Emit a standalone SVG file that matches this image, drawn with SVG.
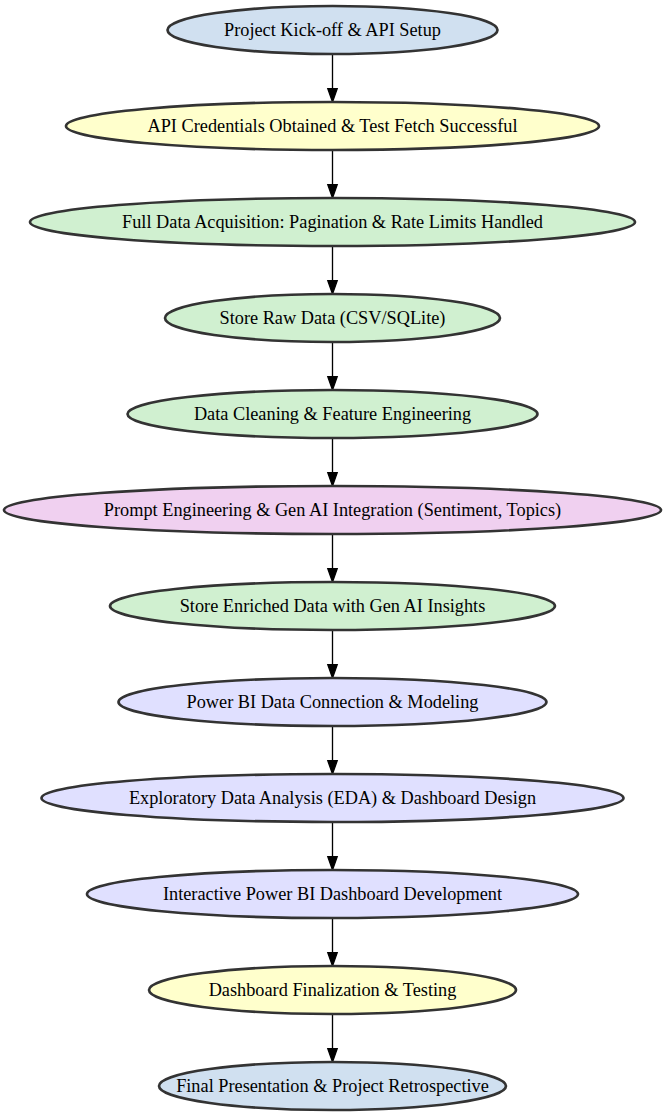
<svg xmlns="http://www.w3.org/2000/svg" width="665" height="1115" viewBox="0 0 665 1115">
<style>
.n ellipse{stroke:#333333;stroke-width:2.67}
.n text{font-family:"Liberation Serif","Times New Roman",serif;font-size:18.3px;text-anchor:middle;fill:#000}
.b{fill:#d0e0f0}.y{fill:#ffffcc}.g{fill:#d0f0d0}.p{fill:#f0d0f0}.l{fill:#e0e0ff}
#edges line{stroke:#000;stroke-width:1.33}
#edges polygon{fill:#000;stroke:#000;stroke-width:1.33}
</style>
<rect width="665" height="1115" fill="#ffffff"/>
<g id="edges">
<line x1="332.5" y1="54" x2="332.5" y2="88.7"/><polygon points="327.8,88.7 337.2,88.7 332.5,102"/>
<line x1="332.5" y1="150" x2="332.5" y2="184.7"/><polygon points="327.8,184.7 337.2,184.7 332.5,198"/>
<line x1="332.5" y1="246" x2="332.5" y2="280.7"/><polygon points="327.8,280.7 337.2,280.7 332.5,294"/>
<line x1="332.5" y1="342" x2="332.5" y2="376.7"/><polygon points="327.8,376.7 337.2,376.7 332.5,390"/>
<line x1="332.5" y1="438" x2="332.5" y2="472.7"/><polygon points="327.8,472.7 337.2,472.7 332.5,486"/>
<line x1="332.5" y1="534" x2="332.5" y2="568.7"/><polygon points="327.8,568.7 337.2,568.7 332.5,582"/>
<line x1="332.5" y1="630" x2="332.5" y2="664.7"/><polygon points="327.8,664.7 337.2,664.7 332.5,678"/>
<line x1="332.5" y1="726" x2="332.5" y2="760.7"/><polygon points="327.8,760.7 337.2,760.7 332.5,774"/>
<line x1="332.5" y1="822" x2="332.5" y2="856.7"/><polygon points="327.8,856.7 337.2,856.7 332.5,870"/>
<line x1="332.5" y1="918" x2="332.5" y2="952.7"/><polygon points="327.8,952.7 337.2,952.7 332.5,966"/>
<line x1="332.5" y1="1014" x2="332.5" y2="1048.7"/><polygon points="327.8,1048.7 337.2,1048.7 332.5,1062"/>
</g>
<g id="n1" class="n"><ellipse class="b" cx="332.5" cy="30" rx="165" ry="24"/><text x="332.5" y="36">Project Kick-off &amp; API Setup</text></g>
<g id="n2" class="n"><ellipse class="y" cx="332.5" cy="126" rx="266.5" ry="24"/><text x="332.5" y="132">API Credentials Obtained &amp; Test Fetch Successful</text></g>
<g id="n3" class="n"><ellipse class="g" cx="332.5" cy="222" rx="302.5" ry="24"/><text x="332.5" y="228">Full Data Acquisition: Pagination &amp; Rate Limits Handled</text></g>
<g id="n4" class="n"><ellipse class="g" cx="332.5" cy="318" rx="167.5" ry="24"/><text x="332.5" y="324">Store Raw Data (CSV/SQLite)</text></g>
<g id="n5" class="n"><ellipse class="g" cx="332.5" cy="414" rx="205" ry="24"/><text x="332.5" y="420">Data Cleaning &amp; Feature Engineering</text></g>
<g id="n6" class="n"><ellipse class="p" cx="332.5" cy="510" rx="328.5" ry="24"/><text x="332.5" y="516">Prompt Engineering &amp; Gen AI Integration (Sentiment, Topics)</text></g>
<g id="n7" class="n"><ellipse class="g" cx="332.5" cy="606" rx="222.5" ry="24"/><text x="332.5" y="612">Store Enriched Data with Gen AI Insights</text></g>
<g id="n8" class="n"><ellipse class="l" cx="332.5" cy="702" rx="214" ry="24"/><text x="332.5" y="708">Power BI Data Connection &amp; Modeling</text></g>
<g id="n9" class="n"><ellipse class="l" cx="332.5" cy="798" rx="291" ry="24"/><text x="332.5" y="804">Exploratory Data Analysis (EDA) &amp; Dashboard Design</text></g>
<g id="n10" class="n"><ellipse class="l" cx="332.5" cy="894" rx="245.5" ry="24"/><text x="332.5" y="900">Interactive Power BI Dashboard Development</text></g>
<g id="n11" class="n"><ellipse class="y" cx="332.5" cy="990" rx="183.5" ry="24"/><text x="332.5" y="996">Dashboard Finalization &amp; Testing</text></g>
<g id="n12" class="n"><ellipse class="b" cx="332.5" cy="1086" rx="173.5" ry="24"/><text x="332.5" y="1092">Final Presentation &amp; Project Retrospective</text></g>
</svg>
